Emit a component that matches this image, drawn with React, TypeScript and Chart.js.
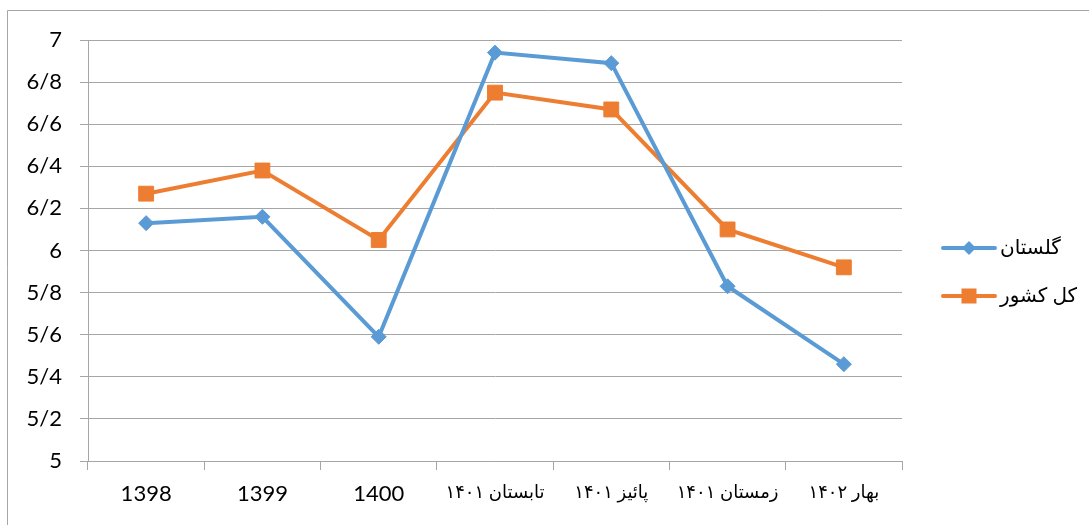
import React, { useEffect, useRef } from 'react';
import { Chart, registerables } from 'chart.js';

Chart.register(...registerables);

const categories = ['1398', '1399', '1400', 'تابستان ۱۴۰۱', 'پائیز ۱۴۰۱', 'زمستان ۱۴۰۱', 'بهار ۱۴۰۲'];
const golestanValues = [6.13, 6.16, 5.59, 6.94, 6.89, 5.83, 5.46];
const countryValues = [6.27, 6.38, 6.05, 6.75, 6.67, 6.10, 5.92];
const seriesNames = ['گلستان', 'کل کشور'];
const yMin = 5;
const yMax = 7;
const yStep = 0.2;

const BLUE = '#5B9BD5';
const ORANGE = '#ED7D31';
const GRID = '#a6a6a6';
const FONT = "Lato, 'DejaVu Sans', sans-serif";

const formatTick = (v: number) => String(Math.round(v * 10) / 10).replace('.', '/');
const isPersian = (s: string) => /[\u0600-\u06FF]/.test(s);

const framePlugin = {
  id: 'frame',
  beforeDraw(chart: any) {
    const ctx = chart.ctx;
    ctx.save();
    ctx.fillStyle = '#ffffff';
    ctx.fillRect(0, 0, chart.width, chart.height);
    ctx.strokeStyle = GRID;
    ctx.lineWidth = 1;
    ctx.beginPath();
    ctx.moveTo(7.5, chart.height);
    ctx.lineTo(7.5, 10.5);
    ctx.lineTo(chart.width, 10.5);
    ctx.stroke();
    ctx.restore();
  },
};

const legendPlugin = {
  id: 'customLegend',
  afterDraw(chart: any) {
    const ctx = chart.ctx;
    const items = [
      { name: seriesNames[0], color: BLUE, shape: 'diamond', y: 248 },
      { name: seriesNames[1], color: ORANGE, shape: 'square', y: 296 },
    ];
    ctx.save();
    for (const it of items) {
      ctx.strokeStyle = it.color;
      ctx.lineWidth = 4;
      ctx.lineCap = 'round';
      ctx.beginPath();
      ctx.moveTo(943, it.y);
      ctx.lineTo(995, it.y);
      ctx.stroke();
      ctx.fillStyle = it.color;
      ctx.beginPath();
      if (it.shape === 'diamond') {
        const r = 7;
        ctx.moveTo(969 - r, it.y);
        ctx.lineTo(969, it.y - r);
        ctx.lineTo(969 + r, it.y);
        ctx.lineTo(969, it.y + r);
        ctx.closePath();
      } else {
        ctx.rect(961.5, it.y - 7.5, 15, 15);
      }
      ctx.fill();
      ctx.fillStyle = '#000000';
      ctx.font = `20px ${FONT}`;
      ctx.textAlign = 'left';
      ctx.textBaseline = 'middle';
      ctx.fillText(it.name, 1000, it.y);
    }
    ctx.restore();
  },
};

export default function App() {
  const canvasRef = useRef<HTMLCanvasElement | null>(null);

  useEffect(() => {
    const canvas = canvasRef.current;
    if (!canvas) return;
    const chart = new Chart(canvas, {
      type: 'line',
      data: {
        labels: categories,
        datasets: [
          {
            label: seriesNames[0],
            data: golestanValues,
            borderColor: BLUE,
            backgroundColor: BLUE,
            borderWidth: 4,
            pointStyle: 'rectRot',
            pointRadius: 7.5,
            pointBorderWidth: 1,
            tension: 0,
          },
          {
            label: seriesNames[1],
            data: countryValues,
            borderColor: ORANGE,
            backgroundColor: ORANGE,
            borderWidth: 4,
            pointStyle: 'rect',
            pointRadius: 10.5,
            pointBorderWidth: 1,
            tension: 0,
          },
        ],
      },
      plugins: [framePlugin, legendPlugin],
      options: {
        responsive: false,
        animation: false,
        layout: { padding: { left: 10, top: 40, right: 187, bottom: 0 } },
        plugins: {
          legend: { display: false },
          title: { display: false },
          tooltip: { enabled: false },
        },
        scales: {
          x: {
            offset: true,
            grid: {
              offset: true,
              drawOnChartArea: false,
              drawTicks: true,
              tickLength: 9,
              color: GRID,
            },
            border: { color: GRID, width: 1 },
            ticks: {
              color: '#000000',
              font: (c: any) => {
                const lbl = c && c.tick ? String(categories[c.index] ?? '') : '';
                return isPersian(lbl)
                  ? { family: FONT, size: 18 }
                  : { family: FONT, size: 22 };
              },
              padding: 11,
              maxRotation: 0,
              autoSkip: false,
            },
            afterFit(scale: any) {
              scale.height = 64;
            },
          },
          y: {
            min: yMin,
            max: yMax,
            grid: { color: GRID, tickLength: 8, drawTicks: true },
            border: { color: GRID, width: 1 },
            ticks: {
              stepSize: yStep,
              color: '#000000',
              font: { family: FONT, size: 22 },
              padding: 18,
              callback: (v: any) => formatTick(Number(v)),
            },
            afterFit(scale: any) {
              scale.width = 78;
            },
          },
        },
      },
    });
    return () => chart.destroy();
  }, []);

  return (
    <div style={{ position: 'absolute', left: 0, top: 0, width: 1089, height: 525 }}>
      <canvas ref={canvasRef} width={1089} height={525} style={{ display: 'block' }} />
    </div>
  );
}
